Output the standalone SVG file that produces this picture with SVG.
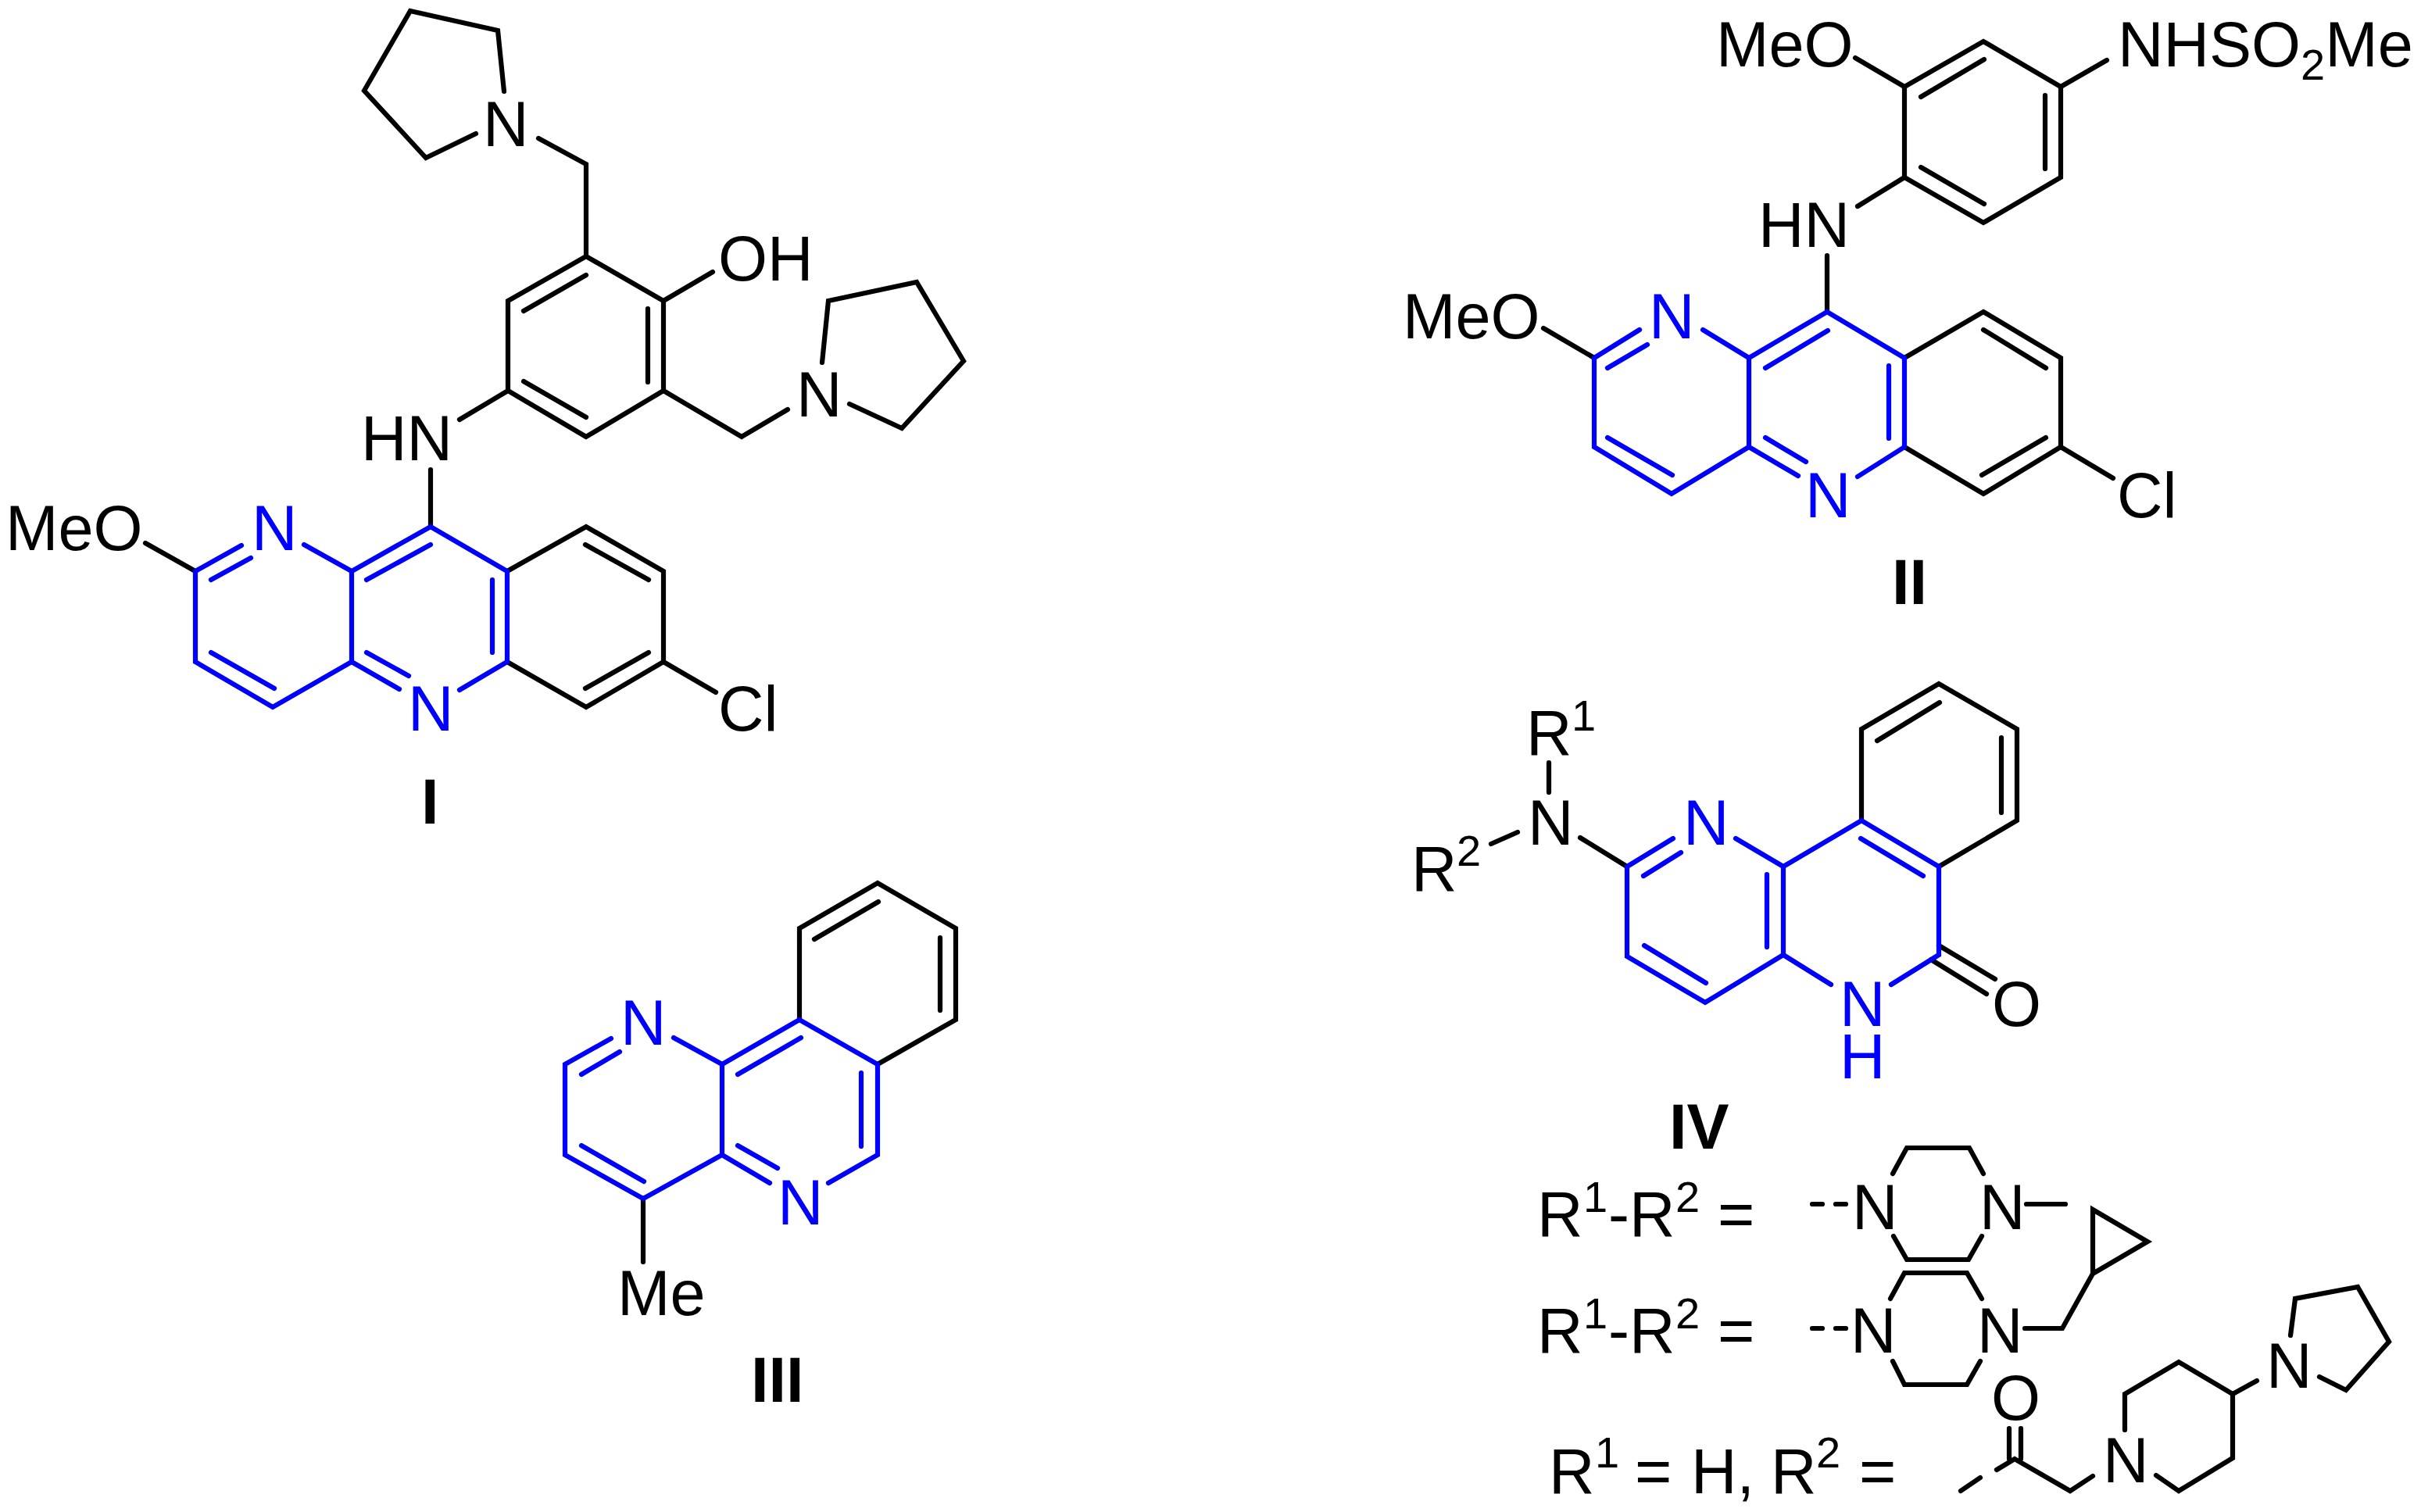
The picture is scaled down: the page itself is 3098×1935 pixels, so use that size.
<svg xmlns="http://www.w3.org/2000/svg" width="3098" height="1935" viewBox="0 0 3098 1935">
<style>
text{font-family:"Liberation Sans",Arial,sans-serif;font-size:81px;fill:#000}
text.u{fill:#0000ff}
text.t{font-weight:700}
.s{font-size:56px}
text.s{font-size:56px}
path{fill:none;stroke-width:6.2;stroke-linecap:round;stroke-linejoin:miter}
.k{stroke:#000}
.v{stroke:#0000ff}
.d{stroke-dasharray:13 17}
</style>
<rect width="3098" height="1935" fill="#fff"/>
<g id="compound-I">
<path class="k" d="M750 559L650 500V385L750 328L849 385V500ZM670 398L750 352M829 395V489M670 488L750 534M849 385L912 348M750 328V210L689 177M645 117L637 39L525 14L466 116L545 202L609 171M849 500L949 559L1008 524M1052 464L1060 385L1173 361L1233 462L1154 548L1087 517M650 500L588 537M551 601V674M186 695L250 731M649 731L750 674L849 731V847L750 905L649 847M749 697L830 742M830 835L749 881M849 847L916 886"/>
<path class="v" d="M309 698L250 731V847L349 905L450 847V731L551 674L649 731V847L588 883M270 742L321 714M389 697L450 731M469 742L551 697M630 742V835M450 847L511 882M469 835L523 865M270 835L351 881"/>
<text x="462" y="589">HN</text><text x="919" y="359">OH</text><text x="618" y="187">N</text>
<text x="1019" y="533">N</text><text x="7" y="704">MeO</text><text x="919" y="935">Cl</text>
<text class="u" x="322" y="704">N</text><text class="u" x="522" y="935">N</text>
<text class="t" x="539" y="1054">I</text>
</g>
<g id="compound-II">
<path class="k" d="M2437 227V111L2538 53L2637 111V227L2538 285ZM2458 124L2539 76M2617 122V216M2458 214L2539 261M2374 74L2437 111M2696 77L2637 111M2377 264L2437 227M2338 327V399M1975 420L2040 458M2437 458L2538 399L2637 458V572L2538 632L2437 572M2538 422L2618 471M2618 560L2536 608M2637 572L2704 612"/>
<path class="v" d="M2098 422L2040 458V572L2139 632L2238 572V458L2338 399L2437 458V572L2377 610M2057 471L2108 441M2179 422L2238 458M2259 471L2339 423M2417 468V561M2238 572L2301 609M2259 560L2311 591M2057 560L2140 608"/>
<text x="2196" y="85">MeO</text>
<text x="2710" y="85">NHSO<tspan class="s" dy="17">2</tspan><tspan dy="-17">Me</tspan></text>
<text x="2250" y="316">HN</text><text x="1795" y="433">MeO</text><text x="2709" y="662">Cl</text>
<text class="u" x="2110" y="433">N</text><text class="u" x="2310" y="662">N</text>
<text class="t" x="2421" y="773">II</text>
</g>
<g id="compound-III">
<path class="k" d="M1023 1305V1188L1123 1130L1223 1188V1305L1123 1362M1042 1202L1124 1154M1203 1200V1293M823 1534V1615"/>
<path class="v" d="M782 1329L723 1362V1478L823 1534L924 1478V1362L1023 1305L1123 1362V1478L1060 1514M744 1375L793 1346M862 1328L924 1362M944 1375L1025 1328M1102 1373V1467M924 1478L985 1514M944 1466L995 1495M744 1466L824 1512"/>
<text class="u" x="794" y="1337">N</text><text class="u" x="995" y="1567">N</text>
<text x="790" y="1683">Me</text>
<text class="t" x="961" y="1794">III</text>
</g>
<g id="compound-IV">
<path class="k" d="M2382 1050V933L2481 875L2581 933V1050L2481 1109M2402 948L2482 899M2561 944V1040M2481 1210L2553 1253M2471 1228L2542 1272M2022 1072L2082 1109M1982 976V1014M1908 1080L1942 1065"/>
<path class="v" d="M2141 1073L2082 1109V1224L2182 1283L2282 1222V1109L2382 1050L2481 1109V1222L2420 1260M2103 1121L2151 1091M2221 1073L2282 1109M2381 1073L2461 1121M2261 1119V1212M2104 1210L2183 1258M2282 1222L2343 1260"/>
<text class="u" x="2154" y="1081">N</text><text class="u" x="2354" y="1313">N</text><text class="u" x="2354" y="1380">H</text>
<text x="2549" y="1313">O</text><text x="1955" y="1081">N</text>
<text x="1953" y="966">R</text><text class="s" x="2011" y="935">1</text>
<text x="1806" y="1140">R</text><text class="s" x="1864" y="1108">2</text>
<text class="t" x="2136" y="1470">IV</text>
</g>
<g id="substituent-1">
<path class="k" d="M2422 1502L2440 1469H2520L2538 1502M2423 1582L2440 1612H2519L2536 1582M2593 1541H2643"/>
<path class="k d" d="M2319 1541H2362"/>
<text x="1967" y="1582">R</text><text class="s" x="2026" y="1551">1</text><text x="2058" y="1582">-</text><text x="2085" y="1582">R</text><text class="s" x="2144" y="1551">2</text><text x="2198" y="1582">=</text>
<text x="2370" y="1573">N</text><text x="2533" y="1573">N</text>
</g>
<g id="substituent-2">
<path class="k" d="M2419 1662L2437 1629H2517L2536 1662M2422 1742L2437 1772H2517L2534 1742M2591 1700H2639L2678 1630V1548L2748 1589L2678 1630"/>
<path class="k d" d="M2319 1700H2362"/>
<text x="1967" y="1731">R</text><text class="s" x="2026" y="1700">1</text><text x="2058" y="1731">-</text><text x="2085" y="1731">R</text><text class="s" x="2144" y="1700">2</text><text x="2198" y="1731">=</text>
<text x="2368" y="1731">N</text><text x="2530" y="1731">N</text>
</g>
<g id="substituent-3">
<path class="k" d="M2509 1908L2534 1891M2555 1881L2578 1867L2649 1908L2678 1889M2571 1828V1867M2586 1828V1867M2719 1830V1784L2788 1743L2857 1784V1866L2788 1908L2759 1888M2857 1784L2888 1767M2931 1709L2937 1662L3017 1647L3057 1717L3002 1779L2968 1762"/>
<text x="1982" y="1911">R</text><text class="s" x="2041" y="1878">1</text><text x="2092" y="1911">=</text><text x="2164" y="1911">H,</text><text x="2266" y="1911">R</text><text class="s" x="2324" y="1878">2</text><text x="2379" y="1911">=</text>
<text x="2548" y="1817">O</text><text x="2691" y="1897">N</text><text x="2900" y="1776">N</text>
</g>
</svg>
